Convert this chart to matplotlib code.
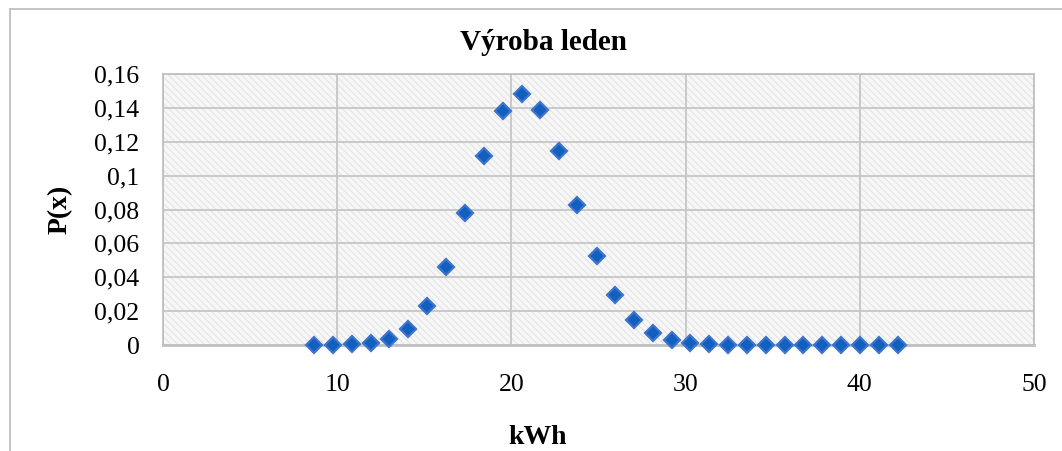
import matplotlib
matplotlib.use("Agg")
import matplotlib.pyplot as plt
from matplotlib.patches import Rectangle
from matplotlib.lines import Line2D
from matplotlib.ticker import FuncFormatter

# ---- data ----
kwh = [8.67, 9.76, 10.85, 11.94, 12.97, 14.06, 15.16, 16.25, 17.34, 18.43,
       19.52, 20.59, 21.64, 22.73, 23.79, 24.90, 25.95, 27.04, 28.13, 29.22,
       30.25, 31.34, 32.43, 33.52, 34.62, 35.71, 36.74, 37.83, 38.92, 40.01,
       41.10, 42.19]
px = [0.0001, 0.0002, 0.0004, 0.0010, 0.0033, 0.0096, 0.0228, 0.0461, 0.0777, 0.1115,
      0.1380, 0.1482, 0.1390, 0.1143, 0.0828, 0.0525, 0.0297, 0.0150, 0.0068, 0.0027,
      0.0010, 0.0003, 0.0001, 0.0, 0.0, 0.0, 0.0, 0.0, 0.0, 0.0,
      0.0, 0.0]
x_ticks = [0, 10, 20, 30, 40, 50]
y_ticks = [0, 0.02, 0.04, 0.06, 0.08, 0.10, 0.12, 0.14, 0.16]
title = "Výroba leden"
xlabel = "kWh"
ylabel = "P(x)"

plt.rcParams['font.family'] = ['Liberation Serif', 'DejaVu Serif']
plt.rcParams['hatch.linewidth'] = 0.7

W, H = 1062, 451
fig = plt.figure(figsize=(W / 100, H / 100), dpi=100)

# outer chart frame (left and top edges visible)
fig.add_artist(Line2D([10 / W, 10 / W], [0, 1 - 9 / H], transform=fig.transFigure,
                      color='#c0c0c0', lw=1.3))
fig.add_artist(Line2D([10 / W, 1], [1 - 9 / H, 1 - 9 / H], transform=fig.transFigure,
                      color='#c0c0c0', lw=1.3))

left, right, top, bottom = 163, 1034, 74, 345
ax = fig.add_axes([left / W, 1 - bottom / H, (right - left) / W, (bottom - top) / H])

ax.patch.set_facecolor('#f7f7f7')
bg = Rectangle((0, 0), 1, 1, transform=ax.transAxes, facecolor='#f7f7f7',
               edgecolor='#e2e2e2', hatch='\\\\\\\\\\', lw=0, zorder=0)
ax.add_patch(bg)

ax.set_xlim(0, 50)
ax.set_ylim(0, 0.16)
ax.set_xticks(x_ticks)
ax.set_yticks(y_ticks)
fmt = FuncFormatter(lambda v, p: f"{v:g}".replace('.', ','))
ax.xaxis.set_major_formatter(fmt)
ax.yaxis.set_major_formatter(fmt)
ax.grid(True, color='#c6c6c6', lw=1.3, zorder=1)
ax.set_axisbelow(True)
ax.tick_params(length=0, labelsize=18.5, colors='black')
ax.tick_params(axis='x', pad=21)
ax.tick_params(axis='y', pad=17)
for s in ax.spines.values():
    s.set_color('#c0c0c0')
    s.set_linewidth(1.3)
ax.spines['bottom'].set_linewidth(2)

ax.plot(kwh, px, linestyle='none', marker='D', markersize=8.6,
        markerfacecolor='#1160c0', markeredgecolor='#3f74cc', markeredgewidth=1.6,
        zorder=3, clip_on=False)

fig.text(543 / W, 1 - 43 / H, title, ha='center', va='center',
         fontsize=21, fontweight='bold')
fig.text(538 / W, 1 - 437 / H, xlabel, ha='center', va='center',
         fontsize=20, fontweight='bold')
fig.text(60 / W, 1 - 209 / H, ylabel, ha='center', va='center', rotation=90,
         fontsize=20, fontweight='bold')

fig.savefig('out.png', dpi=100)
